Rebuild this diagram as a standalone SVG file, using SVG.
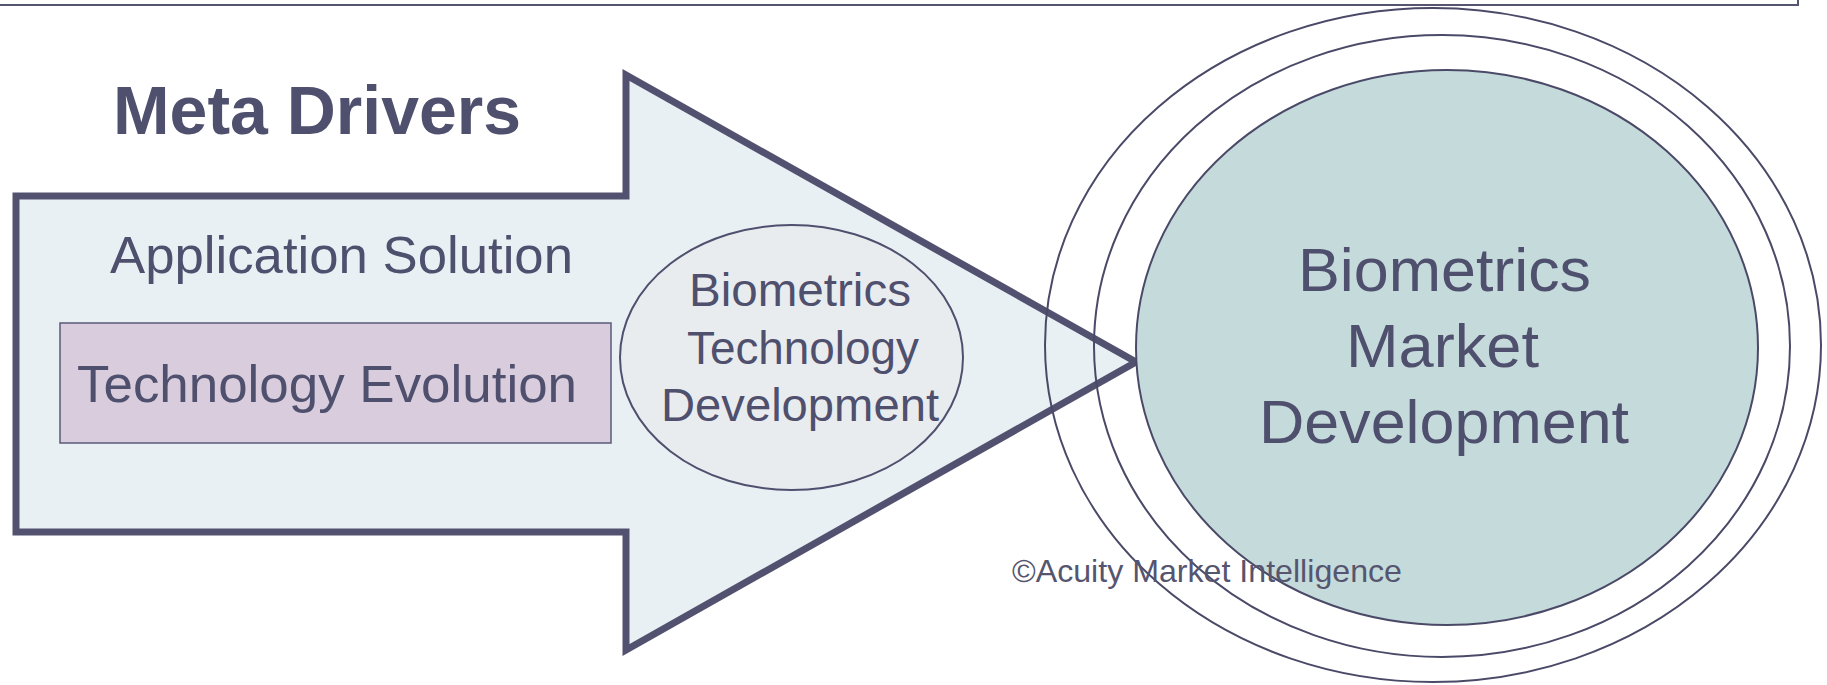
<svg xmlns="http://www.w3.org/2000/svg" width="1827" height="685" viewBox="0 0 1827 685">
<style>
  .t { font-family: "Liberation Sans", Arial, sans-serif; fill: #4f4f6e; }
  .ring { fill: none; stroke: #4a4a68; stroke-width: 2; }
</style>
<rect width="1827" height="685" fill="#ffffff"/>
<g id="frame">
  <path d="M0 5 H1798 V-2" fill="none" stroke="#55556f" stroke-width="2"/>
</g>
<g id="title">
  <text class="t" x="113" y="134" font-size="68" font-weight="bold" textLength="408" lengthAdjust="spacingAndGlyphs">Meta Drivers</text>
</g>
<g id="arrow">
  <polygon points="16,196 626,196 626,75 1136,362 626,650 626,532 16,532" fill="#e8f0f4" stroke="#525270" stroke-width="7" stroke-linejoin="miter" stroke-miterlimit="10"/>
</g>
<g id="application-solution">
  <text class="t" x="110" y="273" font-size="52" textLength="463" lengthAdjust="spacingAndGlyphs">Application Solution</text>
</g>
<g id="technology-evolution">
  <rect x="60" y="323" width="551" height="120" fill="#d9ccdd" stroke="#5a5a78" stroke-width="1.5"/>
  <text class="t" x="77" y="402" font-size="52" textLength="500" lengthAdjust="spacingAndGlyphs">Technology Evolution</text>
</g>
<g id="biometrics-technology-development">
  <ellipse cx="791.5" cy="357.5" rx="171.5" ry="132.5" fill="#e9ecef" stroke="#4f4f6e" stroke-width="2"/>
  <text class="t" x="689" y="306" font-size="46" textLength="222" lengthAdjust="spacingAndGlyphs">Biometrics</text>
  <text class="t" x="687" y="364" font-size="46" textLength="232" lengthAdjust="spacingAndGlyphs">Technology</text>
  <text class="t" x="661" y="421" font-size="46" textLength="278" lengthAdjust="spacingAndGlyphs">Development</text>
</g>
<g id="biometrics-market-development">
  <ellipse class="ring" cx="1433" cy="345" rx="388" ry="337"/>
  <ellipse class="ring" cx="1442" cy="346" rx="348" ry="311"/>
  <ellipse cx="1447" cy="347.5" rx="311" ry="277.5" fill="#c5dada" stroke="#4a4a68" stroke-width="2"/>
  <text class="t" x="1298" y="291" font-size="62" textLength="293" lengthAdjust="spacingAndGlyphs">Biometrics</text>
  <text class="t" x="1346" y="367" font-size="62" textLength="193" lengthAdjust="spacingAndGlyphs">Market</text>
  <text class="t" x="1259" y="443" font-size="62" textLength="370" lengthAdjust="spacingAndGlyphs">Development</text>
</g>
<g id="copyright">
  <text class="t" x="1012" y="582" font-size="32" textLength="390" lengthAdjust="spacingAndGlyphs" style="fill:#55556f">©Acuity Market Intelligence</text>
</g>
<g id="connectors"></g>
</svg>
